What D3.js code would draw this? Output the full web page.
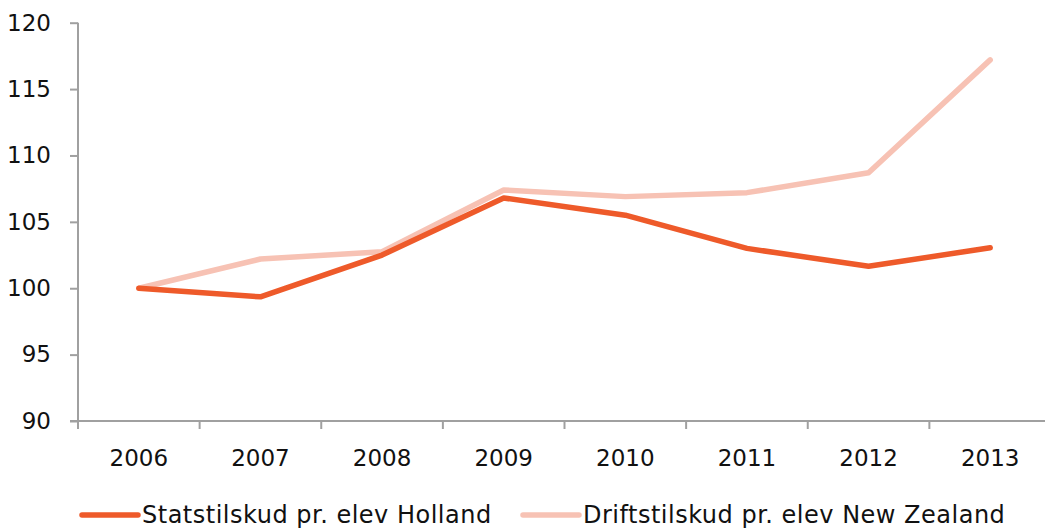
<!DOCTYPE html>
<html>
<head>
<meta charset="utf-8">
<script src="https://cdn.jsdelivr.net/npm/d3@7"></script>
<style>
  html, body { margin: 0; padding: 0; background: #fff; }
  svg text { font-family: "DejaVu Sans", sans-serif; fill: #111; }
</style>
</head>
<body>
<div id="chart"></div>
<script>
const years = ["2006", "2007", "2008", "2009", "2010", "2011", "2012", "2013"];
const holland = [100, 99.35, 102.5, 106.8, 105.5, 103.0, 101.65, 103.05];
const newZealand = [100, 102.2, 102.75, 107.4, 106.9, 107.2, 108.7, 117.2];
const seriesNames = ["Statstilskud pr. elev Holland", "Driftstilskud pr. elev New Zealand"];
const yTicks = [90, 95, 100, 105, 110, 115, 120];

const width = 1045, height = 530;
const colors = ["#ee5a2a", "#f7c2b4"];

const svg = d3.select("#chart").append("svg")
    .attr("width", width).attr("height", height);

const x = d3.scaleBand().domain(years).range([78, 1051]);
const y = d3.scaleLinear().domain([90, 120]).range([421, 22.7]);

const axisColor = "#a0a0a0";

// y axis
const yAxisG = svg.append("g").attr("transform", "translate(78,0)")
    .call(d3.axisLeft(y).tickValues(yTicks).tickSize(8).tickSizeOuter(0).tickPadding(19));
yAxisG.select(".domain").remove();
yAxisG.selectAll("line").attr("stroke", axisColor).attr("stroke-width", 2);
yAxisG.selectAll("text").style("font-size", "23px").attr("fill", "#111");
yAxisG.append("line").attr("x1", 0).attr("x2", 0)
    .attr("y1", y(120)).attr("y2", 429)
    .attr("stroke", axisColor).attr("stroke-width", 2);

// x axis
const xAxisG = svg.append("g").attr("transform", "translate(0,421)");
xAxisG.append("line").attr("x1", 70).attr("x2", width)
    .attr("y1", 0).attr("y2", 0)
    .attr("stroke", axisColor).attr("stroke-width", 2);
xAxisG.selectAll(".tk").data(years.slice(1))
    .join("line").attr("class", "tk")
    .attr("x1", d => x(d)).attr("x2", d => x(d))
    .attr("y1", 0).attr("y2", 8)
    .attr("stroke", axisColor).attr("stroke-width", 2);
xAxisG.selectAll(".lbl").data(years)
    .join("text").attr("class", "lbl")
    .attr("x", d => x(d) + x.bandwidth() / 2)
    .attr("y", 45)
    .attr("text-anchor", "middle")
    .style("font-size", "23px")
    .text(d => d);

// lines
const line = d3.line()
    .x((d, i) => x(years[i]) + x.bandwidth() / 2)
    .y(d => y(d));

const data = [newZealand, holland];
const dataColors = [colors[1], colors[0]];
svg.selectAll(".series").data(data)
    .join("path").attr("class", "series")
    .attr("d", d => line(d))
    .attr("fill", "none")
    .attr("stroke", (d, i) => dataColors[i])
    .attr("stroke-width", 5.5)
    .attr("stroke-linecap", "round")
    .attr("stroke-linejoin", "round");

// legend
const legendX = [82, 523];
const legend = svg.selectAll(".legend").data(seriesNames)
    .join("g").attr("class", "legend")
    .attr("transform", (d, i) => `translate(${legendX[i]},515)`);
legend.append("line")
    .attr("x1", 0).attr("x2", 56).attr("y1", 0).attr("y2", 0)
    .attr("stroke", (d, i) => colors[i])
    .attr("stroke-width", 5.5)
    .attr("stroke-linecap", "round");
legend.append("text")
    .attr("x", 60).attr("y", 8)
    .style("font-size", "24px")
    .style("letter-spacing", "0.5px")
    .text(d => d);
</script>
</body>
</html>
